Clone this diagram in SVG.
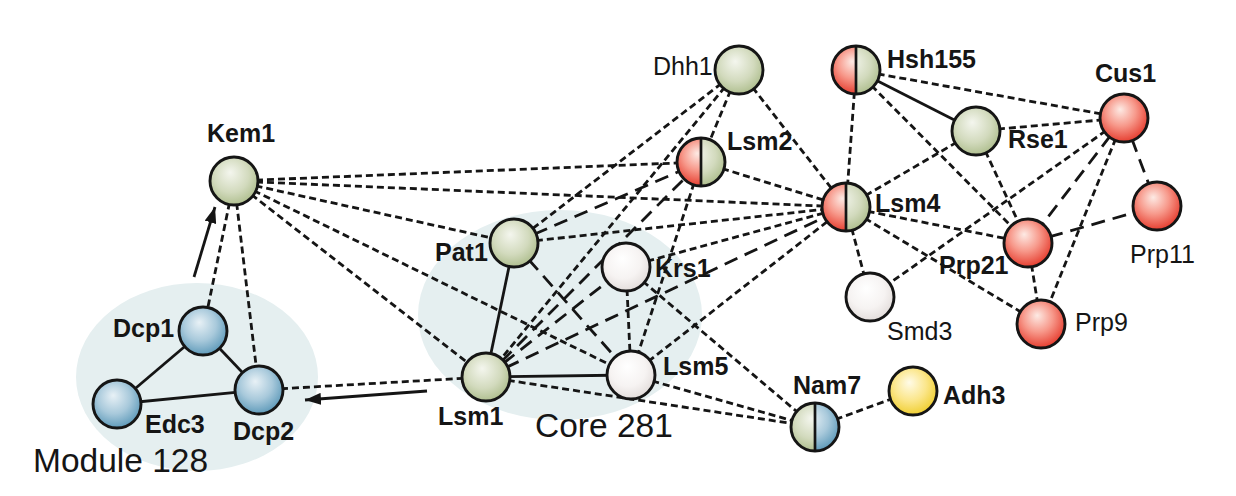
<svg xmlns="http://www.w3.org/2000/svg" width="1236" height="496" viewBox="0 0 1236 496">
<style>
.lbl{font-family:"Liberation Sans",Arial,Helvetica,sans-serif;font-size:25px;fill:#151515}
.b{font-weight:bold}
.big{font-family:"Liberation Sans",Arial,Helvetica,sans-serif;font-size:33.5px;fill:#151515}
.e{stroke:#151515;stroke-width:2.8;fill:none}
.s{stroke-dasharray:7 4}
.l{stroke-dasharray:14 8}
.n{stroke:#151515;stroke-width:2.9}
.div{stroke:#151515;stroke-width:2.7}
.grp{fill:#e5eff0}
</style>
<defs>
<radialGradient id="gG" cx="0.45" cy="0.4" r="0.62" fx="0.42" fy="0.32">
<stop offset="0" stop-color="#f4f6ee"/><stop offset="0.6" stop-color="#d2dabd"/><stop offset="1" stop-color="#adbd8c"/>
</radialGradient>
<radialGradient id="gR" cx="0.45" cy="0.4" r="0.62" fx="0.42" fy="0.32">
<stop offset="0" stop-color="#fdeae4"/><stop offset="0.5" stop-color="#f7998b"/><stop offset="1" stop-color="#e5392b"/>
</radialGradient>
<radialGradient id="gB" cx="0.45" cy="0.4" r="0.62" fx="0.42" fy="0.32">
<stop offset="0" stop-color="#e8f1f6"/><stop offset="0.55" stop-color="#a8c9db"/><stop offset="1" stop-color="#5b98b8"/>
</radialGradient>
<radialGradient id="gW" cx="0.45" cy="0.4" r="0.62" fx="0.42" fy="0.32">
<stop offset="0" stop-color="#ffffff"/><stop offset="0.6" stop-color="#f6f3f2"/><stop offset="1" stop-color="#e2dcda"/>
</radialGradient>
<radialGradient id="gY" cx="0.45" cy="0.4" r="0.62" fx="0.42" fy="0.32">
<stop offset="0" stop-color="#fffbe8"/><stop offset="0.55" stop-color="#fbe68a"/><stop offset="1" stop-color="#efcd2c"/>
</radialGradient>
<clipPath id="leftHalf" clipPathUnits="objectBoundingBox"><rect x="0" y="0" width="0.5" height="1"/></clipPath>
<clipPath id="rightHalf" clipPathUnits="objectBoundingBox"><rect x="0.5" y="0" width="0.5" height="1"/></clipPath>
<marker id="arr" markerUnits="userSpaceOnUse" markerWidth="16" markerHeight="12" refX="16" refY="6" orient="auto">
<path d="M0,0 L16,6 L0,12 z" fill="#151515"/>
</marker>
</defs>

<g id="groups">
<ellipse id="module128" class="grp" cx="197" cy="377" rx="121" ry="94"/>
<ellipse id="core281" class="grp" cx="560" cy="315" rx="142" ry="105"/>
<text class="big" x="33" y="472">Module 128</text>
<text class="big" x="535" y="437">Core 281</text>
</g>

<g id="connectors">
<!-- solid -->
<line class="e" x1="203" y1="331" x2="117" y2="404"/>
<line class="e" x1="203" y1="331" x2="259" y2="390"/>
<line class="e" x1="117" y1="404" x2="259" y2="390"/>
<line class="e" x1="514" y1="243" x2="486" y2="377"/>
<line class="e" x1="486" y1="377" x2="631" y2="375"/>
<line class="e" x1="856" y1="70" x2="976" y2="131"/>
<!-- arrows -->
<line class="e" x1="194" y1="277" x2="215" y2="207" marker-end="url(#arr)"/>
<line class="e" x1="427" y1="391" x2="305" y2="400" marker-end="url(#arr)"/>
<!-- short dashed -->
<line class="e s" x1="234" y1="181" x2="203" y2="331"/>
<line class="e s" x1="234" y1="181" x2="259" y2="390"/>
<line class="e s" x1="234" y1="181" x2="701" y2="162"/>
<line class="e s" x1="234" y1="181" x2="846" y2="207"/>
<line class="e s" x1="234" y1="181" x2="514" y2="243"/>
<line class="e s" x1="234" y1="181" x2="631" y2="375"/>
<line class="e s" x1="234" y1="181" x2="486" y2="377"/>
<line class="e s" x1="259" y1="390" x2="486" y2="377"/>
<line class="e s" x1="739" y1="70" x2="514" y2="243"/>
<line class="e s" x1="739" y1="70" x2="486" y2="377"/>
<line class="e s" x1="739" y1="70" x2="701" y2="162"/>
<line class="e s" x1="739" y1="70" x2="846" y2="207"/>
<line class="e s" x1="701" y1="162" x2="846" y2="207"/>
<line class="e s" x1="701" y1="162" x2="631" y2="375"/>
<line class="e s" x1="514" y1="243" x2="846" y2="207"/>
<line class="e s" x1="626" y1="267" x2="631" y2="375"/>
<line class="e s" x1="626" y1="267" x2="846" y2="207"/>
<line class="e s" x1="626" y1="267" x2="815" y2="427"/>
<line class="e s" x1="631" y1="375" x2="846" y2="207"/>
<line class="e s" x1="631" y1="375" x2="815" y2="427"/>
<line class="e s" x1="486" y1="377" x2="815" y2="427"/>
<line class="e s" x1="815" y1="427" x2="913" y2="391"/>
<line class="e s" x1="856" y1="70" x2="846" y2="207"/>
<line class="e s" x1="856" y1="70" x2="1124" y2="118"/>
<line class="e s" x1="856" y1="70" x2="1028" y2="243"/>
<line class="e s" x1="976" y1="131" x2="846" y2="207"/>
<line class="e s" x1="976" y1="131" x2="1124" y2="118"/>
<line class="e s" x1="976" y1="131" x2="1028" y2="243"/>
<line class="e s" x1="846" y1="207" x2="870" y2="297"/>
<line class="e s" x1="846" y1="207" x2="1028" y2="243"/>
<line class="e s" x1="846" y1="207" x2="1041" y2="324"/>
<line class="e s" x1="1124" y1="118" x2="870" y2="297"/>
<line class="e s" x1="1124" y1="118" x2="1041" y2="324"/>
<line class="e s" x1="1028" y1="243" x2="1041" y2="324"/>
<!-- long dashed -->
<line class="e l" x1="514" y1="243" x2="701" y2="162"/>
<line class="e l" x1="514" y1="243" x2="631" y2="375"/>
<line class="e l" x1="486" y1="377" x2="701" y2="162"/>
<line class="e l" x1="486" y1="377" x2="846" y2="207"/>
<line class="e l" x1="486" y1="377" x2="626" y2="267"/>
<line class="e l" x1="1124" y1="118" x2="1028" y2="243"/>
<line class="e l" x1="1124" y1="118" x2="1157" y2="206"/>
<line class="e l" x1="1028" y1="243" x2="1157" y2="206"/>
</g>

<g id="node-Kem1"><circle class="n" cx="234" cy="181" r="24" fill="url(#gG)"/><text class="lbl b" x="207" y="142">Kem1</text></g>
<g id="node-Dcp1"><circle class="n" cx="203" cy="331" r="24" fill="url(#gB)"/><text class="lbl b" x="113" y="337">Dcp1</text></g>
<g id="node-Edc3"><circle class="n" cx="117" cy="404" r="24" fill="url(#gB)"/><text class="lbl b" x="145" y="433">Edc3</text></g>
<g id="node-Dcp2"><circle class="n" cx="259" cy="390" r="24" fill="url(#gB)"/><text class="lbl b" x="233" y="440">Dcp2</text></g>
<g id="node-Pat1"><circle class="n" cx="514" cy="243" r="24" fill="url(#gG)"/><text class="lbl b" x="435" y="261">Pat1</text></g>
<g id="node-Krs1"><circle class="n" cx="626" cy="267" r="24" fill="url(#gW)"/><text class="lbl b" x="655" y="277">Krs1</text></g>
<g id="node-Lsm1"><circle class="n" cx="486" cy="377" r="24" fill="url(#gG)"/><text class="lbl b" x="438" y="425">Lsm1</text></g>
<g id="node-Lsm5"><circle class="n" cx="631" cy="375" r="24" fill="url(#gW)"/><text class="lbl b" x="663" y="375">Lsm5</text></g>
<g id="node-Dhh1"><circle class="n" cx="739" cy="70" r="24" fill="url(#gG)"/><text class="lbl" x="653" y="75">Dhh1</text></g>
<g id="node-Lsm2">
<circle cx="701" cy="162" r="24" fill="url(#gR)" clip-path="url(#leftHalf)"/>
<circle cx="701" cy="162" r="24" fill="url(#gG)" clip-path="url(#rightHalf)"/>
<line class="div" x1="701" y1="138" x2="701" y2="186"/>
<circle class="n" cx="701" cy="162" r="24" fill="none"/>
<text class="lbl b" x="727" y="150">Lsm2</text></g>
<g id="node-Hsh155">
<circle cx="856" cy="70" r="24" fill="url(#gR)" clip-path="url(#leftHalf)"/>
<circle cx="856" cy="70" r="24" fill="url(#gG)" clip-path="url(#rightHalf)"/>
<line class="div" x1="856" y1="46" x2="856" y2="94"/>
<circle class="n" cx="856" cy="70" r="24" fill="none"/>
<text class="lbl b" x="887" y="68">Hsh155</text></g>
<g id="node-Lsm4">
<circle cx="846" cy="207" r="24" fill="url(#gR)" clip-path="url(#leftHalf)"/>
<circle cx="846" cy="207" r="24" fill="url(#gG)" clip-path="url(#rightHalf)"/>
<line class="div" x1="846" y1="183" x2="846" y2="231"/>
<circle class="n" cx="846" cy="207" r="24" fill="none"/>
<text class="lbl b" x="875" y="212">Lsm4</text></g>
<g id="node-Rse1"><circle class="n" cx="976" cy="131" r="24" fill="url(#gG)"/><text class="lbl b" x="1008" y="148">Rse1</text></g>
<g id="node-Cus1"><circle class="n" cx="1124" cy="118" r="24" fill="url(#gR)"/><text class="lbl b" x="1095" y="82">Cus1</text></g>
<g id="node-Prp11"><circle class="n" cx="1157" cy="206" r="24" fill="url(#gR)"/><text class="lbl" x="1130" y="263">Prp11</text></g>
<g id="node-Prp21"><circle class="n" cx="1028" cy="243" r="24" fill="url(#gR)"/><text class="lbl b" x="939" y="274">Prp21</text></g>
<g id="node-Prp9"><circle class="n" cx="1041" cy="324" r="24" fill="url(#gR)"/><text class="lbl" x="1075" y="331">Prp9</text></g>
<g id="node-Smd3"><circle class="n" cx="870" cy="297" r="24" fill="url(#gW)"/><text class="lbl" x="887" y="340">Smd3</text></g>
<g id="node-Nam7">
<circle cx="815" cy="427" r="24" fill="url(#gG)" clip-path="url(#leftHalf)"/>
<circle cx="815" cy="427" r="24" fill="url(#gB)" clip-path="url(#rightHalf)"/>
<line class="div" x1="815" y1="403" x2="815" y2="451"/>
<circle class="n" cx="815" cy="427" r="24" fill="none"/>
<text class="lbl b" x="793" y="394">Nam7</text></g>
<g id="node-Adh3"><circle class="n" cx="913" cy="391" r="24" fill="url(#gY)"/><text class="lbl b" x="943" y="404">Adh3</text></g>
</svg>
